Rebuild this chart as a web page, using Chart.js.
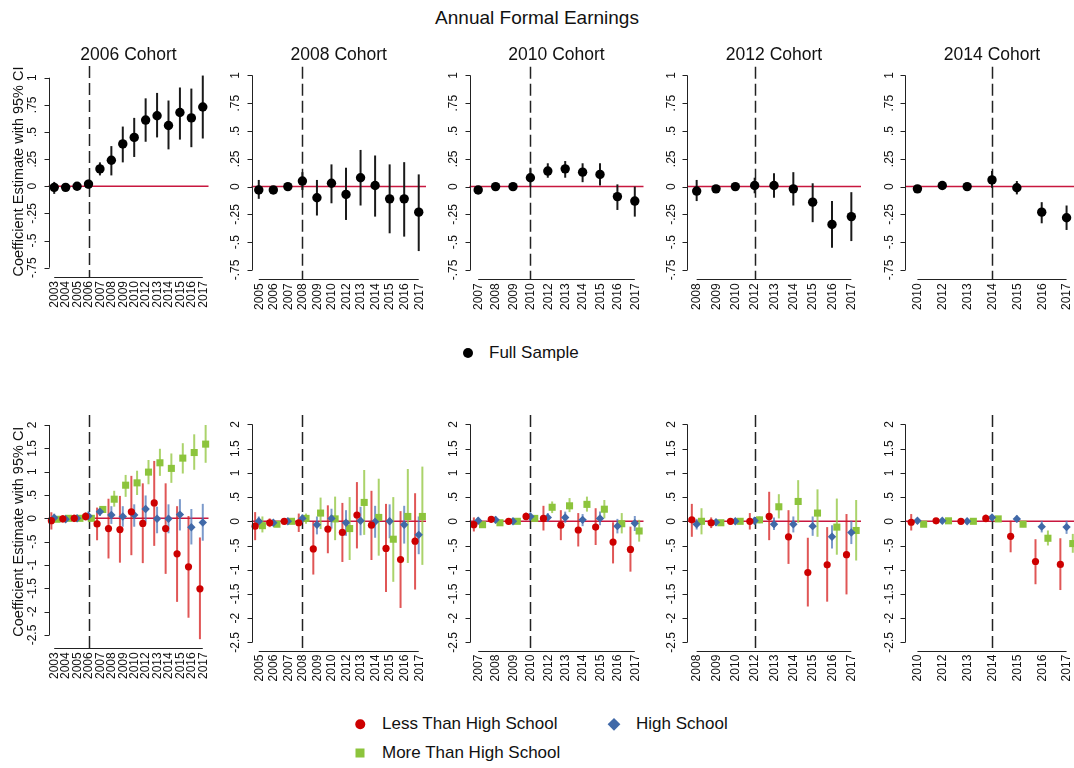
<!DOCTYPE html>
<html lang="en">
<head>
  <meta charset="UTF-8" />
  <title>Annual Formal Earnings</title>
  <script src="https://cdn.jsdelivr.net/npm/chart.js"></script>
  <style>
    body {
      margin: 0;
      background: #fff;
      font-family: 'Liberation Sans', Arial, sans-serif;
      color: #111;
    }
    .page {
      position: relative;
      width: 1074px;
      height: 768px;
      overflow: hidden;
    }
    .page canvas { position: absolute; left: 0; top: 0; }
    .txt { position: absolute; white-space: nowrap; transform: translate(-50%, -50%); }
    .main-title { font-size: 19px; }
    .panel-title { font-size: 17.5px; }
    .leg { position: absolute; white-space: nowrap; font-size: 17px; transform: translateY(-50%); }
    .mk { position: absolute; transform: translate(-50%, -50%); }
    .dot { border-radius: 50%; }
  </style>
</head>
<body>
  <div class="page" id="page">
    <div class="txt main-title" style="left:537px; top:18px">Annual Formal Earnings</div>

    <div class="mk dot" style="left:468px; top:353px; width:10px; height:10px; background:#000"></div>
    <div class="leg" style="left:489px; top:353px">Full Sample</div>

    <div class="mk dot" style="left:360px; top:724px; width:9.5px; height:9.5px; background:#cd0000"></div>
    <div class="leg" style="left:382px; top:724px">Less Than High School</div>
    <div class="mk" style="left:614px; top:724px; width:8.5px; height:8.5px; background:#4069a8; transform:translate(-50%,-50%) rotate(45deg)"></div>
    <div class="leg" style="left:636px; top:724px">High School</div>
    <div class="mk" style="left:360px; top:753px; width:9px; height:9px; background:#8cc43c"></div>
    <div class="leg" style="left:382px; top:753px">More Than High School</div>
  </div>

  <script>
    // ---- data ----
    const cohorts = ['2006 Cohort', '2008 Cohort', '2010 Cohort', '2012 Cohort', '2014 Cohort'];
    const cohortYears = ['2006', '2008', '2010', '2012', '2014'];

    const years2006 = ['2003','2004','2005','2006','2007','2008','2009','2010','2012','2013','2014','2015','2016','2017'];
    const years2008 = ['2005','2006','2007','2008','2009','2010','2012','2013','2014','2015','2016','2017'];
    const years2010 = ['2007','2008','2009','2010','2012','2013','2014','2015','2016','2017'];
    const years2012 = ['2008','2009','2010','2012','2013','2014','2015','2016','2017'];
    const years2014 = ['2010','2012','2013','2014','2015','2016','2017'];

    const topTicks = [-0.75, -0.5, -0.25, 0, 0.25, 0.5, 0.75, 1];
    const topTickLabels = ['-.75', '-.5', '-.25', '0', '.25', '.5', '.75', '1'];
    const bottomTicks = [-2.5, -2, -1.5, -1, -0.5, 0, 0.5, 1, 1.5, 2];
    const bottomTickLabels = ['-2.5', '-2', '-1.5', '-1', '-.5', '0', '.5', '1', '1.5', '2'];

    // full sample
    const full2006   = [-0.01, -0.01, 0.0, 0.02, 0.16, 0.24, 0.39, 0.45, 0.61, 0.65, 0.56, 0.68, 0.63, 0.73];
    const full2006Lo = [-0.07, -0.03, -0.02, -0.02, 0.10, 0.10, 0.22, 0.27, 0.41, 0.45, 0.34, 0.43, 0.36, 0.44];
    const full2006Hi = [0.04, 0.01, 0.02, 0.06, 0.22, 0.37, 0.55, 0.63, 0.81, 0.86, 0.79, 0.91, 0.90, 1.02];

    const full2008   = [-0.03, -0.03, 0.0, 0.05, -0.10, 0.03, -0.07, 0.08, 0.01, -0.11, -0.11, -0.23];
    const full2008Lo = [-0.11, -0.05, -0.02, -0.03, -0.26, -0.15, -0.30, -0.17, -0.27, -0.42, -0.45, -0.58];
    const full2008Hi = [0.06, -0.01, 0.02, 0.13, 0.06, 0.20, 0.17, 0.33, 0.28, 0.20, 0.22, 0.11];

    const full2010   = [-0.03, 0.0, 0.0, 0.08, 0.14, 0.16, 0.13, 0.11, -0.09, -0.13];
    const full2010Lo = [-0.05, -0.02, -0.02, 0.0, 0.08, 0.08, 0.04, 0.01, -0.21, -0.27];
    const full2010Hi = [-0.01, 0.02, 0.02, 0.17, 0.21, 0.23, 0.21, 0.21, 0.02, 0.0];

    const full2012   = [-0.04, -0.02, 0.0, 0.01, 0.01, -0.02, -0.14, -0.34, -0.27];
    const full2012Lo = [-0.13, -0.04, -0.02, -0.06, -0.10, -0.17, -0.32, -0.55, -0.49];
    const full2012Hi = [0.06, 0.0, 0.02, 0.08, 0.12, 0.13, 0.03, -0.13, -0.05];

    const full2014   = [-0.02, 0.01, 0.0, 0.06, -0.01, -0.23, -0.28];
    const full2014Lo = [-0.04, -0.01, -0.02, -0.01, -0.07, -0.33, -0.39];
    const full2014Hi = [0.0, 0.03, 0.02, 0.14, 0.05, -0.14, -0.17];

    // by education: less than high school / high school / more than high school
    const less2006   = [-0.05, -0.01, 0.0, 0.04, -0.12, -0.22, -0.24, 0.14, -0.11, 0.33, -0.22, -0.76, -1.04, -1.51];
    const less2006Lo = [-0.24, -0.09, -0.08, -0.05, -0.47, -0.86, -0.95, -0.79, -0.96, -0.59, -1.19, -1.79, -2.13, -2.59];
    const less2006Hi = [0.13, 0.07, 0.08, 0.13, 0.23, 0.42, 0.48, 0.91, 0.75, 1.23, 0.75, 0.26, 0.05, -0.41];
    const hs2006     = [0.01, -0.02, 0.0, 0.05, 0.14, 0.07, 0.04, 0.07, 0.20, -0.01, -0.01, 0.08, -0.19, -0.09];
    const hs2006Lo   = [-0.08, -0.08, -0.08, -0.05, 0.05, -0.12, -0.18, -0.18, -0.09, -0.32, -0.32, -0.26, -0.56, -0.48];
    const hs2006Hi   = [0.10, 0.04, 0.08, 0.15, 0.23, 0.26, 0.26, 0.30, 0.49, 0.25, 0.30, 0.41, 0.20, 0.31];
    const more2006   = [-0.02, 0.0, 0.0, 0.0, 0.19, 0.41, 0.71, 0.76, 0.99, 1.19, 1.07, 1.29, 1.41, 1.59];
    const more2006Lo = [-0.06, -0.03, -0.03, -0.04, 0.12, 0.25, 0.46, 0.50, 0.73, 0.91, 0.76, 0.96, 1.04, 1.19];
    const more2006Hi = [0.02, 0.03, 0.03, 0.04, 0.26, 0.59, 0.93, 1.02, 1.25, 1.49, 1.39, 1.61, 1.80, 2.0];

    const less2008   = [-0.10, -0.03, 0.0, -0.03, -0.57, -0.16, -0.23, 0.13, -0.08, -0.56, -0.79, -0.41];
    const less2008Lo = [-0.39, -0.12, -0.06, -0.22, -1.10, -0.66, -0.84, -0.56, -0.80, -1.46, -1.79, -1.41];
    const less2008Hi = [0.19, 0.06, 0.06, 0.16, -0.01, 0.33, 0.38, 0.81, 0.63, 0.36, 0.21, 0.58];
    const hs2008     = [0.0, -0.03, 0.0, 0.06, -0.07, 0.06, -0.03, 0.01, -0.01, 0.0, -0.07, -0.28];
    const hs2008Lo   = [-0.10, -0.09, -0.05, -0.03, -0.27, -0.15, -0.30, -0.29, -0.34, -0.35, -0.46, -0.68];
    const hs2008Hi   = [0.10, 0.03, 0.05, 0.14, 0.10, 0.26, 0.23, 0.30, 0.32, 0.35, 0.32, 0.10];
    const more2008   = [-0.09, -0.06, 0.0, 0.06, 0.17, 0.05, -0.15, 0.39, 0.08, -0.37, 0.10, 0.10];
    const more2008Lo = [-0.23, -0.12, -0.05, -0.05, -0.16, -0.39, -0.80, -0.28, -0.71, -1.25, -0.86, -0.90];
    const more2008Hi = [0.10, 0.0, 0.05, 0.16, 0.49, 0.51, 0.50, 1.06, 0.88, 0.50, 1.08, 1.13];

    const less2010   = [-0.07, 0.04, 0.0, 0.10, 0.06, -0.08, -0.18, -0.12, -0.43, -0.58];
    const less2010Lo = [-0.21, -0.03, -0.05, 0.02, -0.19, -0.39, -0.52, -0.49, -0.87, -1.04];
    const less2010Hi = [0.08, 0.11, 0.05, 0.18, 0.32, 0.23, 0.17, 0.27, -0.02, -0.11];
    const hs2010     = [0.01, 0.03, 0.0, 0.10, 0.08, 0.08, 0.03, 0.06, -0.10, -0.04];
    const hs2010Lo   = [-0.06, -0.04, -0.05, 0.02, -0.01, -0.03, -0.10, -0.08, -0.25, -0.20];
    const hs2010Hi   = [0.08, 0.10, 0.05, 0.18, 0.17, 0.20, 0.15, 0.20, 0.05, 0.11];
    const more2010   = [-0.07, -0.03, 0.0, 0.06, 0.29, 0.32, 0.35, 0.25, -0.05, -0.20];
    const more2010Lo = [-0.12, -0.07, -0.03, 0.0, 0.17, 0.19, 0.20, 0.06, -0.25, -0.42];
    const more2010Hi = [-0.02, 0.01, 0.03, 0.12, 0.41, 0.48, 0.51, 0.44, 0.17, 0.03];

    const less2012   = [0.03, -0.03, 0.0, 0.0, 0.10, -0.32, -1.06, -0.90, -0.69];
    const less2012Lo = [-0.32, -0.14, -0.06, -0.17, -0.39, -0.88, -1.76, -1.66, -1.51];
    const less2012Hi = [0.36, 0.08, 0.06, 0.17, 0.61, 0.23, -0.34, -0.12, 0.15];
    const hs2012     = [-0.06, -0.02, 0.0, 0.01, -0.06, -0.06, -0.10, -0.32, -0.23];
    const hs2012Lo   = [-0.17, -0.09, -0.06, -0.07, -0.18, -0.23, -0.30, -0.56, -0.47];
    const hs2012Hi   = [0.05, 0.05, 0.06, 0.09, 0.08, 0.10, 0.10, -0.08, 0.01];
    const more2012   = [0.0, -0.03, 0.0, 0.03, 0.30, 0.41, 0.17, -0.12, -0.19];
    const more2012Lo = [-0.27, -0.08, -0.04, -0.04, 0.06, -0.03, -0.32, -0.69, -0.81];
    const more2012Hi = [0.27, 0.02, 0.04, 0.10, 0.56, 0.85, 0.66, 0.47, 0.44];

    const less2014   = [-0.02, 0.01, 0.0, 0.06, -0.31, -0.83, -0.89];
    const less2014Lo = [-0.19, -0.04, -0.04, -0.02, -0.64, -1.30, -1.42];
    const less2014Hi = [0.15, 0.06, 0.04, 0.14, 0.01, -0.37, -0.35];
    const hs2014     = [0.01, 0.01, 0.0, 0.08, 0.05, -0.11, -0.12];
    const hs2014Lo   = [-0.05, -0.04, -0.04, 0.01, -0.02, -0.23, -0.26];
    const hs2014Hi   = [0.07, 0.06, 0.04, 0.15, 0.12, 0.01, 0.01];
    const more2014   = [-0.06, 0.01, 0.0, 0.05, -0.06, -0.35, -0.46];
    const more2014Lo = [-0.10, -0.03, -0.03, 0.0, -0.12, -0.50, -0.65];
    const more2014Hi = [-0.02, 0.05, 0.03, 0.10, 0.0, -0.19, -0.26];

    // ---- styling / layout ----
    const W = 1100, H = 768;
    const FONT = "'Liberation Sans', Arial, sans-serif";
    const zeroColor = '#c8173f';
    const colBlack = '#000000', ciBlack = '#1a1a1a';
    const colRed = '#cd0000', ciRed = 'rgba(214, 30, 30, 0.75)';
    const colBlue = '#4069a8', ciBlue = 'rgba(80, 120, 185, 0.75)';
    const colGreen = '#8cc43c', ciGreen = 'rgba(150, 200, 70, 0.8)';

    // plot regions (x in page pixels)
    const colLeft  = [48.5, 251.5, 469.5, 687, 905];
    const colRight = [208.5, 426, 643.5, 861, 1079];

    const page = document.getElementById('page');

    function makePanel(id, p) {
      const canvas = document.createElement('canvas');
      canvas.width = W;
      canvas.height = H;
      canvas.id = id;
      page.appendChild(canvas);

      const n = p.years.length;
      const cohortIndex = p.years.indexOf(p.cohortYear);

      const panelPlugin = {
        id: 'panel_' + id,
        beforeDatasetsDraw(chart) {
          const { ctx, chartArea: a, scales: { x, y } } = chart;
          ctx.save();
          // zero line
          const y0 = y.getPixelForValue(0);
          ctx.strokeStyle = zeroColor;
          ctx.lineWidth = 1.5;
          ctx.beginPath();
          ctx.moveTo(a.left, y0);
          ctx.lineTo(a.right, y0);
          ctx.stroke();
          // cohort line
          const cx = Math.round(x.getPixelForValue(cohortIndex)) + 0.5;
          ctx.strokeStyle = '#222';
          ctx.lineWidth = 1.5;
          ctx.setLineDash([12, 5]);
          ctx.beginPath();
          ctx.moveTo(cx, a.top);
          ctx.lineTo(cx, a.bottom);
          ctx.stroke();
          ctx.setLineDash([]);
          // confidence intervals
          chart.data.datasets.forEach(ds => {
            ctx.strokeStyle = ds.ciColor;
            ctx.lineWidth = 2;
            ds.data.forEach((pt, i) => {
              const px = x.getPixelForValue(pt.x);
              ctx.beginPath();
              ctx.moveTo(px, y.getPixelForValue(ds.lo[i]));
              ctx.lineTo(px, y.getPixelForValue(ds.hi[i]));
              ctx.stroke();
            });
          });
          ctx.restore();
        },
        afterDraw(chart) {
          const { ctx, chartArea: a, scales: { x, y } } = chart;
          ctx.save();
          ctx.strokeStyle = '#222';
          ctx.fillStyle = '#111';
          ctx.lineWidth = 1;
          const ax = Math.round(a.left) + 0.5;
          const ay = Math.round(a.bottom) + 0.5;

          // y axis
          const yTop = y.getPixelForValue(p.yTicks[p.yTicks.length - 1]);
          const yBot = y.getPixelForValue(p.yTicks[0]);
          ctx.beginPath();
          ctx.moveTo(ax, yTop);
          ctx.lineTo(ax, yBot);
          p.yTicks.forEach(v => {
            const ty = Math.round(y.getPixelForValue(v)) + 0.5;
            ctx.moveTo(ax - 5, ty);
            ctx.lineTo(ax, ty);
          });
          ctx.stroke();
          ctx.font = '12px ' + FONT;
          ctx.textAlign = 'center';
          ctx.textBaseline = 'middle';
          p.yTicks.forEach((v, i) => {
            ctx.save();
            ctx.translate(a.left - 15.5, y.getPixelForValue(v));
            ctx.rotate(-Math.PI / 2);
            ctx.fillText(p.yLabels[i], 0, 0);
            ctx.restore();
          });

          // x axis
          ctx.beginPath();
          ctx.moveTo(x.getPixelForValue(0), ay);
          ctx.lineTo(x.getPixelForValue(n - 1), ay);
          ctx.stroke();
          ctx.textAlign = 'right';
          p.years.forEach((lab, i) => {
            ctx.save();
            ctx.translate(x.getPixelForValue(i), a.bottom + 4);
            ctx.rotate(-Math.PI / 2);
            ctx.fillText(lab, 0, 0.5);
            ctx.restore();
          });

          // axis title on the first column
          if (p.yTitle) {
            ctx.font = '14.5px ' + FONT;
            ctx.textAlign = 'center';
            ctx.save();
            ctx.translate(18.5, (a.top + a.bottom) / 2);
            ctx.rotate(-Math.PI / 2);
            ctx.fillText(p.yTitle, 0, 0);
            ctx.restore();
          }
          ctx.restore();
        }
      };

      const datasets = p.series.map(s => ({
        label: s.name,
        data: s.est.map((v, i) => ({ x: i + s.shift, y: v })),
        lo: s.lo,
        hi: s.hi,
        ciColor: s.ci,
        pointStyle: s.style,
        pointRadius: s.radius,
        pointHoverRadius: s.radius,
        pointBackgroundColor: s.color,
        pointBorderColor: s.color,
        pointBorderWidth: 0
      }));

      new Chart(canvas.getContext('2d'), {
        type: 'scatter',
        data: { datasets: datasets },
        options: {
          responsive: false,
          animation: false,
          events: [],
          clip: false,
          layout: {
            padding: { left: p.left, top: p.top, right: W - p.right, bottom: H - p.bottom }
          },
          scales: {
            x: { type: 'linear', display: false, min: -0.5, max: n - 0.5 },
            y: { type: 'linear', display: false, min: p.yMin, max: p.yMax }
          },
          plugins: {
            legend: { display: false },
            tooltip: { enabled: false }
          }
        },
        plugins: [panelPlugin]
      });

      // panel title
      if (p.title) {
        const t = document.createElement('div');
        t.className = 'txt panel-title';
        t.style.left = ((p.left + p.right) / 2) + 'px';
        t.style.top = '53.5px';
        t.textContent = p.title;
        page.appendChild(t);
      }
    }

    const yearsList = [years2006, years2008, years2010, years2012, years2014];
    const fullList = [
      [full2006, full2006Lo, full2006Hi],
      [full2008, full2008Lo, full2008Hi],
      [full2010, full2010Lo, full2010Hi],
      [full2012, full2012Lo, full2012Hi],
      [full2014, full2014Lo, full2014Hi]
    ];
    const eduList = [
      [[less2006, less2006Lo, less2006Hi], [hs2006, hs2006Lo, hs2006Hi], [more2006, more2006Lo, more2006Hi]],
      [[less2008, less2008Lo, less2008Hi], [hs2008, hs2008Lo, hs2008Hi], [more2008, more2008Lo, more2008Hi]],
      [[less2010, less2010Lo, less2010Hi], [hs2010, hs2010Lo, hs2010Hi], [more2010, more2010Lo, more2010Hi]],
      [[less2012, less2012Lo, less2012Hi], [hs2012, hs2012Lo, hs2012Hi], [more2012, more2012Lo, more2012Hi]],
      [[less2014, less2014Lo, less2014Hi], [hs2014, hs2014Lo, hs2014Hi], [more2014, more2014Lo, more2014Hi]]
    ];

    const yTitle = 'Coefficient Estimate with 95% CI';

    window.onload = () => {
      for (let c = 0; c < 5; c++) {
        const first = c === 0;
        const f = fullList[c];
        makePanel('top' + c, {
          title: cohorts[c],
          years: yearsList[c],
          cohortYear: cohortYears[c],
          left: colLeft[c], right: colRight[c],
          top: first ? 66 : 66.7,
          bottom: first ? 277 : 279.3,
          yMin: first ? -0.836 : -0.834,
          yMax: first ? 1.108 : 1.079,
          yTicks: topTicks, yLabels: topTickLabels,
          yTitle: first ? yTitle : null,
          series: [
            { name: 'Full Sample', est: f[0], lo: f[1], hi: f[2], shift: 0, style: 'circle', radius: 4.7, color: colBlack, ci: ciBlack }
          ]
        });

        const e = eduList[c];
        makePanel('bot' + c, {
          title: null,
          years: yearsList[c],
          cohortYear: cohortYears[c],
          left: colLeft[c], right: colRight[c],
          top: 415,
          bottom: first ? 648.3 : 650.7,
          yMin: first ? -2.785 : -2.673,
          yMax: first ? 2.214 : 2.196,
          yTicks: bottomTicks, yLabels: bottomTickLabels,
          yTitle: first ? yTitle : null,
          series: [
            { name: 'Less Than High School', est: e[0][0], lo: e[0][1], hi: e[0][2], shift: -0.25, style: 'circle', radius: 3.6, color: colRed, ci: ciRed },
            { name: 'High School', est: e[1][0], lo: e[1][1], hi: e[1][2], shift: 0, style: 'rectRot', radius: 4.2, color: colBlue, ci: ciBlue },
            { name: 'More Than High School', est: e[2][0], lo: e[2][1], hi: e[2][2], shift: 0.25, style: 'rect', radius: 5, color: colGreen, ci: ciGreen }
          ]
        });
      }
    };
  </script>
</body>
</html>
